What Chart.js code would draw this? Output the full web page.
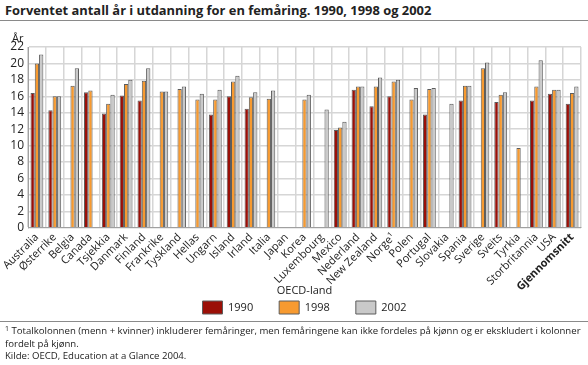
<!DOCTYPE html>
<html>
<head>
<meta charset="utf-8">
<script src="https://cdn.jsdelivr.net/npm/chart.js@4.4.1/dist/chart.umd.min.js"></script>
<style>
  body { margin: 0; background: #fff; font-family: "Open Sans", sans-serif; color: #222; }
  #wrap { position: relative; width: 588px; height: 365px; }
  #title { position: absolute; left: 5px; top: 1px; font-weight: bold; font-size: 12.9px; white-space: nowrap; }
  .rule { position: absolute; left: 0; width: 588px; height: 1px; background: #8a8a8a; }
  #box { position: absolute; left: 0; top: 22px; width: 588px; height: 302px; }
  #note { position: absolute; left: 5px; top: 325px; font-size: 9.6px; line-height: 12.5px; white-space: nowrap; }
  #note sup { font-size: 7px; vertical-align: 3px; line-height: 0; }
</style>
</head>
<body>
<div id="wrap">
  <div id="title">Forventet antall år i utdanning for en femåring. 1990, 1998 og 2002</div>
  <div class="rule" style="top:20px"></div>
  <div id="box"><canvas id="chart"></canvas></div>
  <div class="rule" style="top:321px"></div>
  <div id="note"><sup>1</sup> Totalkolonnen (menn + kvinner) inkluderer femåringer, men femåringene kan ikke fordeles på kjønn og er ekskludert i kolonner<br>fordelt på kjønn.<br>Kilde: OECD, Education at a Glance 2004.</div>
</div>
<script>
const countries = [
    'Australia', 'Østerrike', 'Belgia', 'Canada', 'Tsjekkia', 'Danmark', 'Finland',
    'Frankrike', 'Tyskland', 'Hellas', 'Ungarn', 'Island', 'Irland', 'Italia', 'Japan',
    'Korea', 'Luxembourg', 'Mexico', 'Nederland', 'New Zealand', 'Norge¹', 'Polen',
    'Portugal', 'Slovakia', 'Spania', 'Sverige', 'Sveits', 'Tyrkia', 'Storbritannia',
    'USA', 'Gjennomsnitt',
];

const years1990 = [16.4, 14.3, null, 16.5, 13.9, 16.1, 15.5, null, null, null, 13.8, 16.0, 14.5, null, null,
    null, null, 11.9, 16.8, 14.8, 16.0, null, 13.8, null, 15.5, null, 15.3, null, 15.5, 16.3, 15.1];
const years1998 = [20.0, 16.0, 17.3, 16.7, 15.1, 17.5, 17.9, 16.6, 16.9, 15.6, 15.6, 17.8, 15.9, 15.7, null,
    15.6, null, 12.2, 17.2, 17.2, 17.8, 15.6, 16.9, null, 17.3, 19.4, 16.2, 9.7, 17.2, 16.8, 16.4];
const years2002 = [21.1, 16.0, 19.4, null, 16.2, 18.0, 19.4, 16.6, 17.2, 16.3, 16.8, 18.5, 16.5, 16.7, null,
    16.2, 14.4, 12.9, 17.2, 18.3, 18.0, 17.0, 17.0, 15.1, 17.3, 20.1, 16.5, null, 20.4, 16.8, 17.2];

const yTicks = [0, 2, 4, 6, 8, 10, 12, 14, 16, 18, 20, 22];

const fontFamily = '"Open Sans", sans-serif';
const textColor = '#222';

// "År" over the y axis
const unitLabel = {
    id: 'unitLabel',
    afterDraw(chart) {
        const ctx = chart.ctx;
        ctx.save();
        ctx.font = '11px ' + fontFamily;
        ctx.fillStyle = textColor;
        ctx.textAlign = 'left';
        ctx.textBaseline = 'bottom';
        ctx.fillText('År', 12, chart.chartArea.top - 3);
        ctx.restore();
    }
};

function makeSet(label, data, color) {
    return {
        label: label,
        data: data,
        backgroundColor: color,
        borderColor: '#5c5c5c',
        borderWidth: 1,
        categoryPercentage: 0.72,
        barPercentage: 1.0,
    };
}

var myChart = new Chart(
    document.getElementById('chart'),
    {
        type: 'bar',
        data: {
            labels: countries,
            datasets: [
                makeSet('1990', years1990, '#9b0f07'),
                makeSet('1998', years1998, '#f79a30'),
                makeSet('2002', years2002, '#c9c9c9'),
            ]
        },
        options: {
            responsive: true,
            maintainAspectRatio: false,
            animation: false,
            layout: { padding: { left: 0, right: 7, top: 25, bottom: 0 } },
            plugins: {
                tooltip: { enabled: false },
                legend: {
                    position: 'bottom',
                    fullSize: false,
                    title: {
                        display: true,
                        text: 'OECD-land',
                        color: textColor,
                        font: { family: fontFamily, size: 11 },
                        // pull the boxes up close to the title, keep wide gaps between items
                        padding: { top: 2, bottom: -24 },
                    },
                    labels: {
                        boxWidth: 20,
                        boxHeight: 13,
                        padding: 26,
                        color: textColor,
                        font: { family: fontFamily, size: 11 },
                    }
                }
            },
            scales: {
                x: {
                    afterFit: (s) => {
                        s.height = 56;
                        // long rotated names run a bit past the axis box, don't clip them
                        s._computeLabelArea = () => undefined;
                    },
                    grid: { color: '#d6d6d6', lineWidth: 1.5, drawTicks: false, offset: true },
                    border: { color: '#a0a0a0' },
                    ticks: {
                        autoSkip: false,
                        maxRotation: 45,
                        minRotation: 45,
                        padding: 3,
                        color: textColor,
                        font: (c) => ({
                            family: fontFamily,
                            size: 11,
                            weight: c.index === countries.length - 1 ? 'bold' : 'normal'
                        }),
                    },
                },
                y: {
                    min: 0,
                    max: 22,
                    afterFit: (s) => { s.width = 28; },
                    afterBuildTicks: (s) => { s.ticks = yTicks.map(v => ({ value: v })); },
                    grid: { color: '#d6d6d6', lineWidth: 1.5, drawTicks: false },
                    border: { color: '#a0a0a0' },
                    ticks: {
                        autoSkip: false,
                        padding: 4,
                        color: textColor,
                        font: { family: fontFamily, size: 12 },
                    }
                }
            }
        },
        plugins: [unitLabel]
    }
);
</script>
</body>
</html>
